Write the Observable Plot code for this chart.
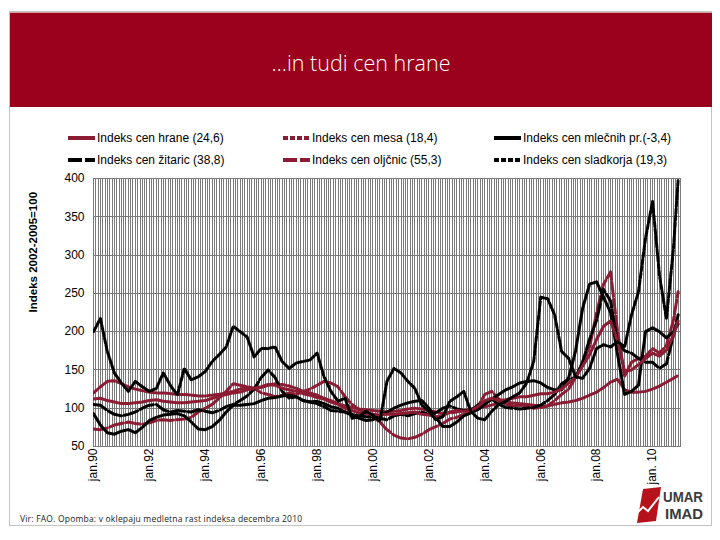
<!DOCTYPE html>
<html><head><meta charset="utf-8">
<script src="https://cdn.jsdelivr.net/npm/d3@7"></script>
<script src="https://cdn.jsdelivr.net/npm/@observablehq/plot@0.6"></script>
<style>
body{margin:0;background:#fff;width:720px;height:540px;position:relative;overflow:hidden;font-family:"Liberation Sans",Arial,sans-serif;}
#frame{position:absolute;left:9px;top:11px;width:703px;height:515px;border:1px solid #c4c4c4;box-sizing:border-box;}
#bar{position:absolute;left:10px;top:12px;width:702px;height:95px;background:#9b001c;border-top:1px solid #d9a0a8;box-sizing:border-box;}
#title{position:absolute;left:10px;top:48px;width:702px;text-align:center;color:#fff;font-family:"Open Sans",Lato,sans-serif;font-size:21.5px;font-weight:300;}
#chart{position:absolute;left:0;top:170px;}
.leg{position:absolute;font-size:12px;color:#000;white-space:nowrap;height:14px;line-height:14px;}
.leg svg{position:absolute;left:0;top:2px;}
.leg span{position:absolute;left:29px;top:0;}
#caption{position:absolute;left:20px;top:513px;font-family:"Open Sans",sans-serif;font-size:8.5px;letter-spacing:0.2px;color:#222;white-space:nowrap;}
#logo{position:absolute;left:634px;top:487px;width:82px;height:36px;}
</style></head>
<body>
<div id="frame"></div>
<div id="bar"></div>
<div id="title">…in tudi cen hrane</div>
<div id="legend"></div>
<div id="chart"></div>
<div id="caption">Vir: FAO. Opomba: v oklepaju medletna rast indeksa decembra 2010</div>
<div id="logo">
<svg width="82" height="36">
<polygon points="9,2 27,0 22,34 3,36" fill="#b5121b"/>
<polyline points="1,28 9,20 14,24 25,10" fill="none" stroke="#fff" stroke-width="2"/>
<text x="29" y="15" font-family="Liberation Sans, Arial" font-weight="bold" font-size="15" fill="#3a3a3a" textLength="40" lengthAdjust="spacingAndGlyphs">UMAR</text>
<text x="31" y="32" font-family="Liberation Sans, Arial" font-weight="bold" font-size="15" fill="#3a3a3a" textLength="38" lengthAdjust="spacingAndGlyphs">IMAD</text>
</svg>
</div>
<script>
// Quarterly readings (Jan, Apr, Jul, Oct) 1990–2010, plus Dec 2010
const food = [
 112,113,110,108, 106,106,107,108, 110,111,109,108, 107,107,108,109, 110,113,116,118,
 120,121,124,126, 128,131,130,126, 124,122,119,117, 114,112,108,105, 100,97,94,93,
 92,91,92,92, 93,94,95,92, 91,89,90,95, 97,96,97,102, 110,113,110,111,
 113,115,115,117, 119,119,121,125, 133,140,155,170, 190,207,214,188, 148,150,157,165,
 172,168,176,195, 214];
const meat = [
 120,128,135,136, 132,128,125,123, 121,120,120,119, 118,118,117,116, 116,117,118,120,
 122,125,127,126, 127,130,132,131, 129,126,122,120, 117,113,110,106, 103,101,99,98,
 97,96,95,96, 97,99,100,99, 97,95,93,94, 95,97,99,100, 102,104,107,108,
 107,106,105,104, 103,103,105,107, 108,110,113,117, 121,127,134,138, 124,121,121,122,
 125,129,134,139, 143];
const dairy = [
 93,78,68,66, 70,72,68,75, 84,88,91,92, 93,90,82,73, 72,76,84,95,
 104,104,105,106, 110,113,114,116, 117,115,110,108, 109,106,102,100, 95,91,87,84,
 85,90,95,100, 104,107,109,110, 100,88,76,76, 82,90,94,98, 105,112,118,124,
 128,133,135,136, 133,127,124,124, 140,175,230,262, 265,245,225,170, 118,122,130,200,
 205,200,192,200, 210];
const cereals = [
 105,104,97,92, 90,92,95,100, 104,105,98,95, 97,96,95,98, 96,94,97,102,
 105,110,116,125, 140,150,140,122, 113,115,110,108, 106,102,97,96, 95,92,90,89,
 88,87,85,90, 92,90,93,95, 92,94,100,103, 99,97,97,104, 108,112,105,101,
 100,99,100,101, 104,110,118,132, 138,140,160,190, 215,255,240,185, 175,172,165,160,
 160,152,158,195, 222];
const oils = [
 73,72,74,78, 80,82,80,79, 81,84,85,84, 85,86,88,95, 100,105,113,122,
 132,130,128,126, 120,118,115,117, 120,118,122,125, 130,135,133,128, 115,105,98,95,
 88,82,72,65, 61,60,62,66, 72,76,80,86, 88,92,96,102, 118,122,112,105,
 103,104,102,100, 101,103,110,118, 125,140,160,180, 225,262,278,200, 142,160,165,168,
 178,172,182,215, 252];
const sugar = [
 200,217,174,146, 133,122,135,128, 122,126,146,130, 117,152,137,141, 148,161,170,180,
 207,200,193,167, 178,178,180,161, 152,159,161,163, 172,141,122,109, 113,87,89,96,
 91,83,135,152, 146,135,126,104, 96,85,89,109, 115,122,96,87, 85,96,105,109,
 115,120,133,161, 245,243,222,174, 165,141,139,152, 178,183,180,187, 180,222,252,322,
 370,274,217,309, 398];

const seriesNames = ["Indeks cen hrane (24,6)","Indeks cen mesa (18,4)","Indeks cen mlečnih pr.(-3,4)",
  "Indeks cen žitaric (38,8)","Indeks cen oljčnic (55,3)","Indeks cen sladkorja (19,3)"];
const tickYears = [1990,1992,1994,1996,1998,2000,2002,2004,2006,2008,2010];
const tickLabels = ["jan.90","jan.92","jan.94","jan.96","jan.98","jan.00","jan.02","jan.04","jan.06","jan.08","jan. 10"];
const yTicks = [50,100,150,200,250,300,350,400];

const RED = "#8c1c33", BLACK = "#000";
const styles = [
  {values: food, color: RED, dash: null},
  {values: meat, color: RED, dash: "5,2"},
  {values: dairy, color: BLACK, dash: null},
  {values: cereals, color: BLACK, dash: "14,3"},
  {values: oils, color: RED, dash: "14,3"},
  {values: sugar, color: BLACK, dash: "5,2"}
];

const dates = food.map((_, i) => i < 84
  ? new Date(Date.UTC(1990 + Math.floor(i / 4), (i % 4) * 3, 1))
  : new Date(Date.UTC(2010, 11, 1)));

const months = d3.utcMonths(new Date(Date.UTC(1990,0,1)), new Date(Date.UTC(2011,0,2)));
const tickDates = tickYears.map(y => new Date(Date.UTC(y,0,1)));
const labelMap = new Map(tickYears.map((y,i) => [y, tickLabels[i]]));

const drawOrder = [4,1,3,2,0,5];
const lineMarks = drawOrder.map(k => {
  const s = styles[k];
  const data = s.values.map((v,i) => ({date: dates[i], value: v}));
  return Plot.line(data, {x:"date", y:"value", stroke: s.color, strokeWidth: 3,
    strokeDasharray: s.dash || undefined, clip: true});
});

const chart = Plot.plot({
  width: 720, height: 331,
  marginLeft: 93, marginRight: 40, marginTop: 8, marginBottom: 55,
  style: {fontFamily: "Liberation Sans, Arial, sans-serif", fontSize: "12px", color: "#000", background: "transparent", overflow: "visible"},
  x: {type: "utc", domain: [new Date(Date.UTC(1990,0,1)), new Date(Date.UTC(2011,0,1))]},
  y: {domain: [50, 400]},
  marks: [
    Plot.ruleX(months, {stroke: "#7a7a7a", strokeWidth: 1, shapeRendering: "crispEdges"}),
    Plot.ruleY(yTicks, {stroke: "#7a7a7a", strokeWidth: 1, shapeRendering: "crispEdges"}),
    Plot.frame({stroke: "#7a7a7a", shapeRendering: "crispEdges"}),
    ...lineMarks,
    Plot.axisY(yTicks, {tickSize: 0, tickPadding: 9, label: null, fontSize: 12}),
    Plot.axisX(tickDates, {tickSize: 0, tickPadding: 2, tickRotate: -90, label: null, fontSize: 12,
      tickFormat: d => labelMap.get(d.getUTCFullYear())}),
    Plot.text(["Indeks 2002-2005=100"], {frameAnchor: "left", rotate: -90, dx: -60, fontWeight: "bold", fontSize: 11.5})
  ]
});
document.getElementById("chart").appendChild(chart);

// legend
const cols = [68, 283, 494], rows = [131, 153];
const leg = document.getElementById("legend");
seriesNames.forEach((name, i) => {
  const s = styles[i];
  const div = document.createElement("div");
  div.className = "leg";
  div.style.left = cols[i % 3] + "px";
  div.style.top = rows[Math.floor(i / 3)] + "px";
  div.innerHTML = `<svg width="28" height="10"><line x1="0" y1="5" x2="27" y2="5" stroke="${s.color}" stroke-width="4" ${s.dash ? `stroke-dasharray="${s.dash}"` : ""}/></svg><span>${name}</span>`;
  leg.appendChild(div);
});
</script>
</body></html>
